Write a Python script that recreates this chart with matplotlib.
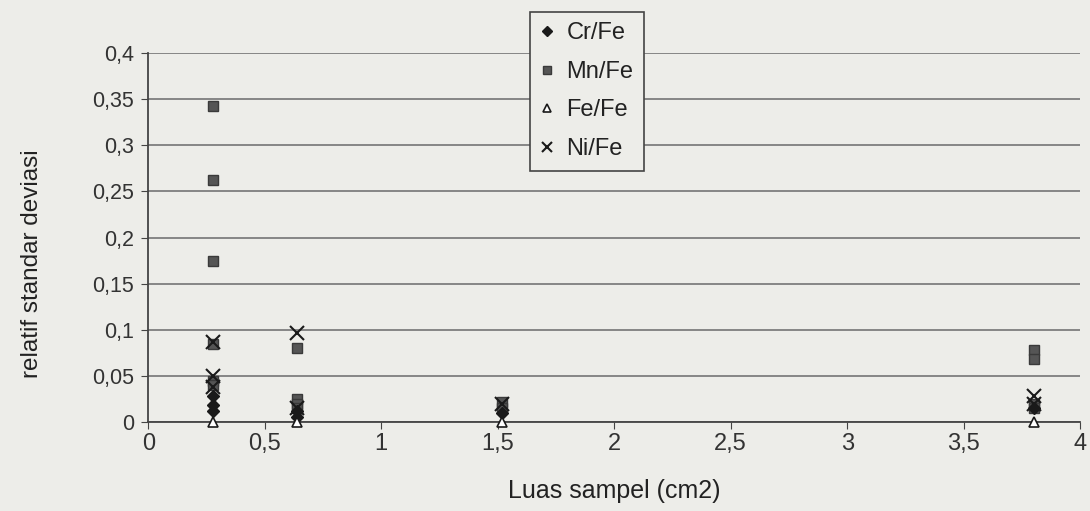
import matplotlib.pyplot as plt

plt.rcParams['font.family'] = ['Liberation Sans', 'DejaVu Sans']

# relative standard deviation vs sample area, one series per ratio
cr_x = [0.28, 0.28, 0.28, 0.64, 0.64, 1.52, 3.8]
cr_y = [0.028, 0.018, 0.012, 0.012, 0.006, 0.010, 0.015]

mn_x = [0.28, 0.28, 0.28, 0.28, 0.28, 0.28, 0.64, 0.64, 0.64, 0.64,
        1.52, 1.52, 3.8, 3.8, 3.8, 3.8]
mn_y = [0.343, 0.263, 0.175, 0.085, 0.045, 0.040, 0.080, 0.025, 0.020, 0.015,
        0.022, 0.015, 0.078, 0.068, 0.020, 0.015]

fe_x = [0.28, 0.64, 1.52, 3.8]
fe_y = [0.0, 0.0, 0.0, 0.0]

ni_x = [0.28, 0.28, 0.28, 0.64, 0.64, 1.52, 3.8, 3.8]
ni_y = [0.087, 0.050, 0.038, 0.097, 0.015, 0.020, 0.028, 0.020]

xticks = [0, 0.5, 1, 1.5, 2, 2.5, 3, 3.5, 4]
yticks = [0, 0.05, 0.1, 0.15, 0.2, 0.25, 0.3, 0.35, 0.4]

bg = '#edede9'
fig = plt.figure(figsize=(10.9, 5.11), dpi=100, facecolor=bg)
ax = fig.add_axes([0.136, 0.174, 0.855, 0.722], facecolor=bg)

ax.plot(cr_x, cr_y, 'D', ms=6.5, color='#1a1a1a', clip_on=False, label='Cr/Fe', zorder=4)
ax.plot(mn_x, mn_y, 's', ms=7.5, color='#555555', mec='#3a3a3a', clip_on=False, label='Mn/Fe', zorder=3)
ax.plot(fe_x, fe_y, '^', ms=7.5, mfc='white', mec='#1a1a1a', mew=1.2, clip_on=False, label='Fe/Fe', zorder=5)
ax.plot(ni_x, ni_y, 'x', ms=10, mew=1.5, color='#1a1a1a', clip_on=False, label='Ni/Fe', zorder=4)

ax.set_xlim(0, 4)
ax.set_ylim(0, 0.4)
ax.set_xticks(xticks)
ax.set_yticks(yticks)
ax.set_xticklabels([f'{t:g}'.replace('.', ',') for t in xticks], fontsize=17, color='#333333')
ax.set_yticklabels([f'{t:g}'.replace('.', ',') for t in yticks], fontsize=15.5, color='#333333')
ax.tick_params(axis='x', length=5, pad=3, color='#444444')
ax.tick_params(axis='y', length=5, pad=5, color='#444444')

ax.grid(axis='y', color='#7e7e7e', lw=1.3)
ax.set_axisbelow(True)
for side in ['top', 'right']:
    ax.spines[side].set_visible(False)
ax.spines['left'].set_color('#444444')
ax.spines['bottom'].set_color('#444444')
ax.spines['left'].set_linewidth(1.3)
ax.spines['bottom'].set_linewidth(1.3)

ax.set_xlabel('Luas sampel (cm2)', fontsize=18, color='#222222')
ax.set_ylabel('relatif standar deviasi', fontsize=17.5, color='#222222')
ax.xaxis.set_label_coords(0.5, -0.155)
ax.yaxis.set_label_coords(-0.113, 0.43)

leg = fig.legend(loc='upper left', bbox_to_anchor=(0.486, 0.977), fontsize=17,
                 frameon=True, fancybox=False, edgecolor='#444444', facecolor=bg,
                 framealpha=1, handlelength=0.6, handletextpad=0.5,
                 labelspacing=0.7, borderpad=0.45, borderaxespad=0, markerscale=0.75)
leg.get_frame().set_linewidth(1.2)
for t in leg.get_texts():
    t.set_color('#222222')

fig.savefig('out.png', dpi=100, facecolor=bg)
